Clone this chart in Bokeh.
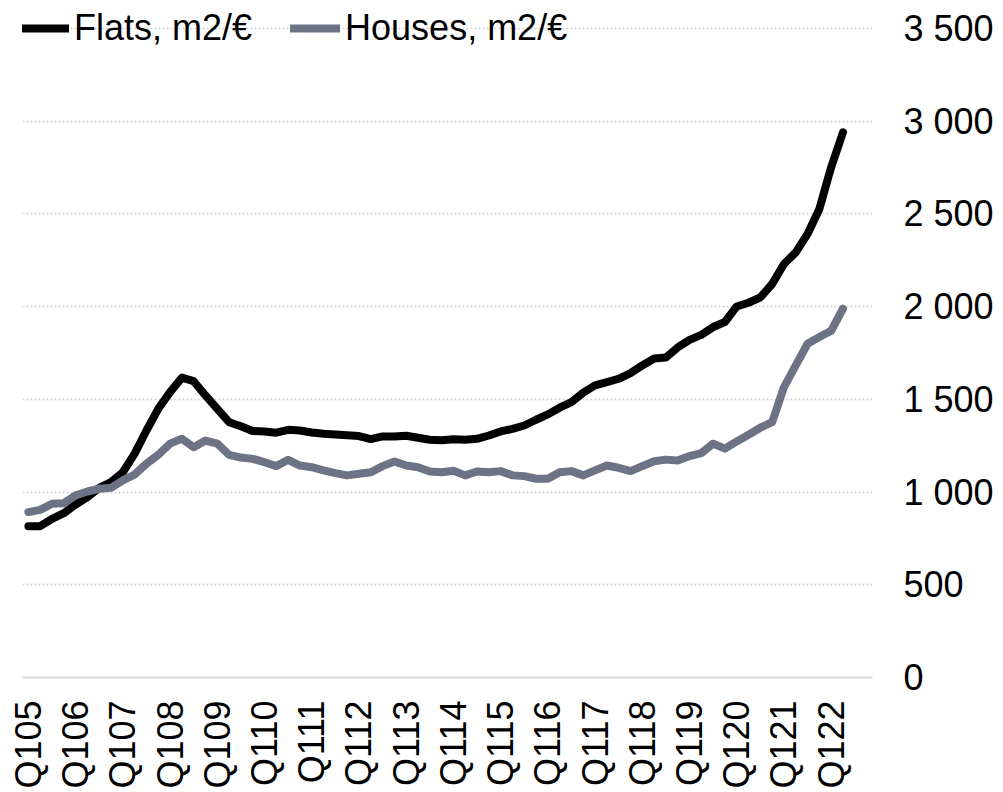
from bokeh.plotting import figure
from bokeh.models import Range1d, FixedTicker
from bokeh.embed import file_html
from bokeh.resources import INLINE

# ---------------- data ----------------
flats = [816, 816, 856, 886, 933, 973, 1023, 1054, 1107, 1207, 1332, 1449, 1539, 1617, 1598, 1521, 1449, 1377, 1355,
         1329, 1327, 1320, 1336, 1332, 1321, 1314, 1311, 1307, 1302, 1286, 1300, 1300, 1304, 1293, 1282, 1279,
         1285, 1282, 1287, 1305, 1327, 1341, 1359, 1390, 1419, 1455, 1485, 1536, 1575, 1593, 1611, 1641, 1683,
         1720, 1726, 1780, 1821, 1848, 1890, 1917, 2001, 2021, 2050, 2122, 2230, 2293, 2392, 2527, 2752, 2940]
houses = [892, 904, 937, 940, 982, 1003, 1018, 1023, 1063, 1095, 1153, 1201, 1261, 1288, 1242, 1278, 1261, 1201, 1186,
          1179, 1161, 1140, 1174, 1143, 1134, 1117, 1102, 1090, 1099, 1107, 1140, 1165, 1143, 1134, 1111, 1107,
          1115, 1090, 1111, 1107, 1113, 1090, 1086, 1072, 1072, 1107, 1113, 1090, 1117, 1143, 1131, 1113, 1140,
          1166, 1175, 1170, 1194, 1210, 1261, 1234, 1273, 1309, 1347, 1377, 1566, 1683, 1800, 1836, 1870, 1989]
x_tick_labels = ["Q105", "Q106", "Q107", "Q108", "Q109", "Q110", "Q111", "Q112", "Q113",
                 "Q114", "Q115", "Q116", "Q117", "Q118", "Q119", "Q120", "Q121", "Q122"]
y_ticks = [0, 500, 1000, 1500, 2000, 2500, 3000, 3500]
y_tick_labels = ["0", "500", "1 000", "1 500", "2 000", "2 500", "3 000", "3 500"]
series_names = ["Flats, m2/€", "Houses, m2/€"]

n_categories = 72  # Q1 05 .. Q4 22 on the category axis
x = list(range(len(flats)))
x_ticks = list(range(0, 4 * len(x_tick_labels), 4))

FONT = "Liberation Sans"

p = figure(width=1003, height=792, output_backend="svg", toolbar_location=None,
           y_axis_location="right",
           x_range=Range1d(-0.5, n_categories - 0.5), y_range=Range1d(0, 3651),
           min_border_left=22, min_border_right=131, min_border_top=0, min_border_bottom=115)
p.outline_line_color = None
p.background_fill_color = "white"

p.line(x, flats, line_color="black", line_width=8, line_cap="round", line_join="round",
       legend_label=series_names[0])
p.line(x, houses, line_color="#6b7385", line_width=8, line_cap="round", line_join="round",
       legend_label=series_names[1])

# grid
p.xgrid.visible = False
p.ygrid.ticker = FixedTicker(ticks=y_ticks)
p.ygrid.grid_line_color = "#d0d0d0"
p.ygrid.grid_line_dash = "2 2"
p.ygrid.grid_line_width = 1.5

# y axis (right)
ya = p.yaxis[0]
ya.ticker = FixedTicker(ticks=y_ticks)
ya.major_label_overrides = dict(zip(y_ticks, y_tick_labels))
ya.axis_line_color = None
ya.major_tick_line_color = None
ya.minor_tick_line_color = None
ya.major_tick_out = 0
ya.major_label_standoff = 31
ya.major_label_text_font = FONT
ya.major_label_text_font_size = "36px"
ya.major_label_text_color = "black"

# x axis
xa = p.xaxis[0]
xa.ticker = FixedTicker(ticks=x_ticks)
xa.major_label_overrides = dict(zip(x_ticks, x_tick_labels))
xa.major_label_orientation = 3.14159265 / 2
xa.axis_line_color = "#d9d9d9"
xa.axis_line_width = 2
xa.major_tick_line_color = None
xa.minor_tick_line_color = None
xa.major_tick_out = 0
xa.major_label_standoff = 23
xa.major_label_text_font = FONT
xa.major_label_text_font_size = "36px"
xa.major_label_text_color = "black"

# legend
lg = p.legend[0]
lg.orientation = "horizontal"
lg.location = (-3, 627)
lg.background_fill_alpha = 0
lg.border_line_alpha = 0
lg.padding = 0
lg.margin = 0
lg.spacing = 38
lg.glyph_width = 50
lg.glyph_height = 44
lg.label_height = 44
lg.label_standoff = 5
lg.label_text_font = FONT
lg.label_text_font_size = "36px"
lg.label_text_color = "black"

open("out.html", "w").write(file_html(p, INLINE))
